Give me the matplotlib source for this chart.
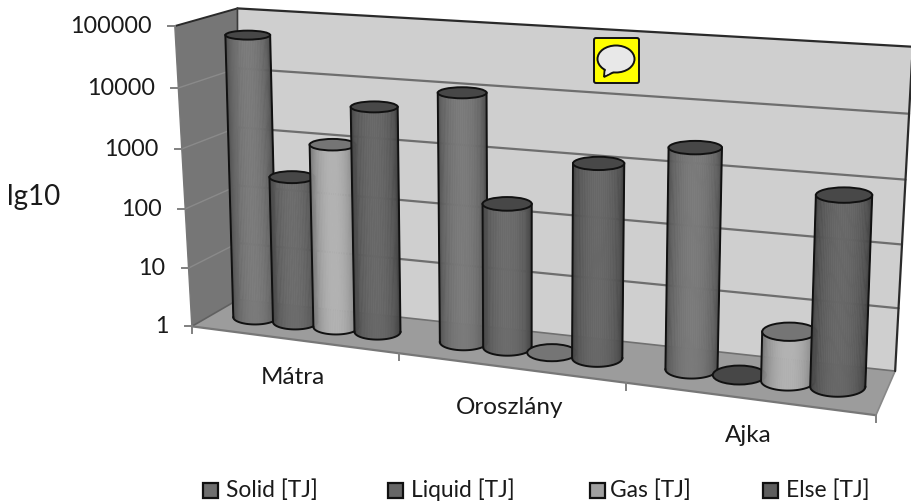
import numpy as np
import matplotlib
matplotlib.use("Agg")
import matplotlib.pyplot as plt
from matplotlib.patches import Polygon, FancyBboxPatch, Ellipse, Rectangle
from matplotlib.collections import PolyCollection

categories = ["Mátra", "Oroszlány", "Ajka"]
series = ["Solid [TJ]", "Liquid [TJ]", "Gas [TJ]", "Else [TJ]"]
solid = [56000, 11600, 3100]
liquid = [290, 225, 1]
gas = [1150, 1, 6]
other = [5400, 1330, 910]
tick_labels = ["1", "10", "100", "1000", "10000", "100000"]
body_colors = ["#747474", "#666666", "#aaaaaa", "#626262"]
top_colors = ["#474747", "#474747", "#757575", "#484848"]
legend_colors = ["#6e6e6e", "#666666", "#a0a0a0", "#5e5e5e"]

plt.rcParams['font.family'] = ['Lato', 'DejaVu Sans']
W, H = 912, 503
fig = plt.figure(figsize=(W / 100, H / 100), dpi=100)
ax = fig.add_axes([0, 0, 1, 1])
ax.set_xlim(0, W)
ax.set_ylim(H, 0)
ax.axis('off')

# camera calibration: box coordinates (category, log10, depth) <-> picture
calib = np.array([
    (0, 5, 0, 175, 26), (0, 4, 0, 178, 88), (0, 3, 0, 182, 149), (0, 2, 0, 185, 209),
    (0, 1, 0, 188, 268), (0, 0, 0, 193, 326), (1, 0, 0, 399, 354), (2, 0, 0, 625, 383),
    (3, 0, 0, 877, 415), (0, 5, 1, 237, 10), (0, 4, 1, 238, 68), (0, 3, 1, 238, 126),
    (0, 2, 1, 238, 184), (0, 1, 1, 238, 243), (0, 0, 1, 238, 301), (3, 0, 1, 894, 370),
    (3, 1, 1, 899, 309), (3, 2, 1, 903, 245), (3, 3, 1, 906, 180), (3, 4, 1, 909, 114),
    (3, 5, 1, 912, 46),
], float)
A, b = [], []
for X, Y, Z, u, v in calib:
    A.append([X, Y, Z, 1, 0, 0, 0, 0, -u * X, -u * Y, -u * Z]); b.append(u)
    A.append([0, 0, 0, 0, X, Y, Z, 1, -v * X, -v * Y, -v * Z]); b.append(v)
p = np.linalg.lstsq(np.array(A, float), np.array(b, float), rcond=None)[0]
P = np.append(p, 1).reshape(3, 4)


def basis(x, y, z):
    return np.column_stack([np.ones_like(x), x, y, z, x * y, x * z, y * z, x * y * z])


def camera(x, y, z):
    h = P @ np.stack([x, y, z, np.ones(x.size)])
    return np.column_stack([h[0] / h[2], h[1] / h[2]])


resid = calib[:, 3:5] - camera(calib[:, 0], calib[:, 1], calib[:, 2])
fix = np.linalg.lstsq(basis(calib[:, 0], calib[:, 1], calib[:, 2]), resid, rcond=None)[0]


def proj(x, y, z):
    x, y, z = np.broadcast_arrays(np.asarray(x, float), np.asarray(y, float), np.asarray(z, float))
    x, y, z = x.ravel(), y.ravel(), z.ravel()
    return camera(x, y, z) + basis(x, y, z) @ fix


def face(pts, color, z=1):
    ax.add_patch(Polygon(proj(*np.array(pts).T), closed=True, fc=color, ec='none', zorder=z))


def line(a, b_, color='#707070', lw=1.5, z=2):
    q = proj(*np.array([a, b_]).T)
    ax.plot(q[:, 0], q[:, 1], color=color, lw=lw, zorder=z, solid_capstyle='round')


face([(0, 0, 1), (3, 0, 1), (3, 5, 1), (0, 5, 1)], '#cfcfcf')
face([(0, 0, 0), (0, 0, 1), (0, 5, 1), (0, 5, 0)], '#767676')
face([(0, 0, 0), (3, 0, 0), (3, 0, 1), (0, 0, 1)], '#9c9c9c')

for k in range(1, 5):
    line((0, k, 1), (3, k, 1), '#6e6e6e', 1.6)
    line((0, k, 0), (0, k, 1), '#8a8a8a', 1.0)
line((0, 0, 1), (3, 0, 1), '#707070', 1.2)
line((0, 0, 0), (0, 0, 1), '#606060', 1.2)
line((0, 0, 0), (3, 0, 0), '#777777', 1.6)
line((3, 0, 0), (3, 0, 1), '#888888', 1.2)
line((0, 5, 1), (3, 5, 1), '#2a2a2a', 1.6)
line((0, 5, 0), (0, 5, 1), '#2a2a2a', 1.4)
line((0, 0, 1), (0, 5, 1), '#3a3a3a', 1.2)
line((3, 0, 1), (3, 5, 1), '#2a2a2a', 1.6)
line((0, 0, 0), (0, 5, 0), '#777777', 1.0)

for k, lab in enumerate(tick_labels):
    q = proj(0, k, 0)[0]
    ax.plot([q[0] - 7, q[0]], [q[1], q[1]], color='#808080', lw=1.4, zorder=2)
    ax.text(q[0] - 23, q[1] + 0.5, lab, ha='right', va='center', fontsize=16.8, color='#1a1a1a')
for k in range(4):
    q = proj(k, 0, 0)[0]
    ax.plot([q[0], q[0]], [q[1], q[1] + 7], color='#808080', lw=1.4, zorder=2)

BAR_RX, DEPTH = 0.11, 0.5
STEP = 0.2
INK = '#111111'


def ring(xc, y):
    """Centre, half width and half height of the flat ellipse at this height."""
    c = proj(xc, y, DEPTH)[0]
    e = proj([xc - BAR_RX, xc + BAR_RX], [y, y], [DEPTH, DEPTH])
    w = (e[1, 0] - e[0, 0]) / 2
    return c, w, w * (0.184 + 0.00046 * c[1])


def cylinder(xc, val, body, top, order):
    y = np.log10(val)
    (c0, w0, h0), (c1, w1, h1) = ring(xc, 0), ring(xc, y)
    th = np.linspace(np.pi, 2 * np.pi, 41)
    if y > 0:
        lo = np.column_stack([c0[0] + w0 * np.cos(th), c0[1] - h0 * np.sin(th)])
        hi = np.column_stack([c1[0] + w1 * np.cos(th), c1[1] - h1 * np.sin(th)])
        t = np.linspace(0, 1, 40)
        shade = 0.58 + 0.47 * np.sin(np.pi * t) ** 1.1
        rgb = np.array(matplotlib.colors.to_rgb(body))
        cols = [np.clip(rgb * s, 0, 1) for s in shade]
        quads = [np.array([lo[i], lo[i + 1], hi[i + 1], hi[i]]) for i in range(40)]
        ax.add_collection(PolyCollection(quads, facecolors=cols, edgecolors=cols, linewidths=0.4, zorder=order))
        ax.plot(lo[:, 0], lo[:, 1], color=INK, lw=1.4, zorder=order + 0.1)
        ax.plot([lo[0, 0], hi[0, 0]], [lo[0, 1], hi[0, 1]], color=INK, lw=1.4, zorder=order + 0.1)
        ax.plot([lo[-1, 0], hi[-1, 0]], [lo[-1, 1], hi[-1, 1]], color=INK, lw=1.4, zorder=order + 0.1)
    ax.add_patch(Ellipse(c1, 2 * w1, 2 * h1, fc=top, ec=INK, lw=1.4, zorder=order + 0.2))


all_series = [solid, liquid, gas, other]
order = 10
for g in range(len(categories)):
    for s, vals in enumerate(all_series):
        cylinder(g + 0.5 + 0.005 * g + (s - 1.5) * STEP, vals[g], body_colors[s], top_colors[s], order)
        order += 1

for name, (u, v) in zip(categories, [(293, 378), (510, 408), (748, 436)]):
    ax.text(u, v, name, ha='center', va='center', fontsize=17.5, color='#1a1a1a', zorder=60)
ax.text(34, 197, "lg10", ha='center', va='center', fontsize=20, color='#1a1a1a', zorder=60)

for name, col, u, tx in zip(series, legend_colors, [203.5, 388.5, 590, 763], [226, 411, 610, 786]):
    ax.add_patch(Rectangle((u, 482.5), 15, 15, fc=col, ec=INK, lw=1.6, zorder=60))
    ax.text(tx, 490, name, ha='left', va='center', fontsize=16.4, color='#1a1a1a', zorder=60)

# speech-bubble marker
ax.add_patch(FancyBboxPatch((594, 38), 45, 45, boxstyle='round,pad=0,rounding_size=2',
                            fc='#ffff00', ec=INK, lw=1.4, zorder=70))
ax.add_patch(Polygon([(605, 66), (604, 77), (618, 70)], closed=True, fc='#e8e8e8', ec=INK, lw=1.4, zorder=71))
ax.add_patch(Ellipse((616, 59), 37, 27, fc='#e8e8e8', ec=INK, lw=1.4, zorder=72))
ax.add_patch(Polygon([(606, 66), (605.5, 75), (617, 69.5)], closed=True, fc='#e8e8e8', ec='none', zorder=73))

fig.savefig('out.png', dpi=100, facecolor='white')
